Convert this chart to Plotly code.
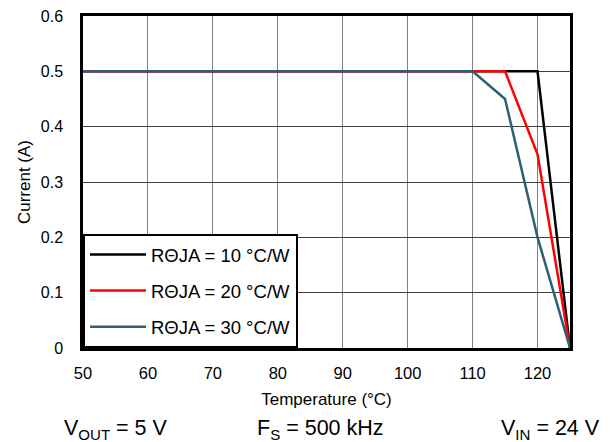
import plotly.graph_objects as go

temp_10 = [50, 120, 125]
curr_10 = [0.5, 0.5, 0.0]
temp_20 = [50, 115, 120, 125]
curr_20 = [0.5, 0.5, 0.35, 0.0]
temp_30 = [50, 110, 115, 120, 125]
curr_30 = [0.5, 0.5, 0.45, 0.2, 0.0]
names = ["R\u0398JA = 10 \u00b0C/W", "R\u0398JA = 20 \u00b0C/W", "R\u0398JA = 30 \u00b0C/W"]
colors = ["#000000", "#ff0000", "#2e5f78"]
x_ticks = [50, 60, 70, 80, 90, 100, 110, 120]
y_ticks = [0, 0.1, 0.2, 0.3, 0.4, 0.5, 0.6]
y_ticklabels = ["0", "0.1", "0.2", "0.3", "0.4", "0.5", "0.6"]
notes = ["V<sub>OUT</sub> = 5 V", "F<sub>S</sub> = 500 kHz", "V<sub>IN</sub> = 24 V"]

FONT = "Liberation Sans, Arial, sans-serif"

fig = go.Figure()
for i, (xs, ys, n, c) in enumerate(zip([temp_10, temp_20, temp_30],
                                        [curr_10, curr_20, curr_30], names, colors)):
    fig.add_trace(go.Scatter(x=xs, y=ys, mode="lines", name=n, legendgroup=f"g{i}",
                             line=dict(color=c, width=2.5)))

fig.update_layout(
    width=610, height=442,
    margin=dict(l=83, r=40, t=16, b=94, autoexpand=False),
    paper_bgcolor="white", plot_bgcolor="white",
    font=dict(family=FONT, size=16, color="#000"),
    showlegend=True,
    legend=dict(x=0, y=0, xanchor="left", yanchor="bottom",
                bgcolor="white", bordercolor="black", borderwidth=2,
                font=dict(size=18.5, family=FONT), tracegroupgap=9,
                itemwidth=56),
    xaxis=dict(range=[50, 125], tickvals=x_ticks, ticks="", showgrid=True,
               gridcolor="#808080", gridwidth=1, showline=True, linecolor="black",
               linewidth=2.5, mirror=True, zeroline=False, automargin=False,
               tickfont=dict(size=16.5), ticklabelstandoff=8,
               title=dict(text="Temperature (\u00b0C)", font=dict(size=17), standoff=13)),
    yaxis=dict(range=[0, 0.6], tickvals=y_ticks, ticktext=y_ticklabels, ticks="",
               showgrid=True, gridcolor="#404040", gridwidth=1, showline=True,
               linecolor="black", linewidth=2.5, mirror=True, zeroline=False,
               automargin=False, tickfont=dict(size=16), ticklabelstandoff=14,
               title=dict(text="Current (A)", font=dict(size=17), standoff=6)),
)

plot_w, plot_h = 610 - 83 - 40, 442 - 16 - 94
note_left_px = [62, 255, 499]
for txt, px in zip(notes, note_left_px):
    fig.add_annotation(text=txt, x=(px - 83) / plot_w, y=(348 - 429) / plot_h,
                       xref="paper", yref="paper", xanchor="left", yanchor="middle",
                       showarrow=False, font=dict(family=FONT, size=21.5, color="#000"))

fig.write_html("out.html", config={"displayModeBar": False},
               post_script="document.body.style.margin='0';document.body.style.padding='0';")
